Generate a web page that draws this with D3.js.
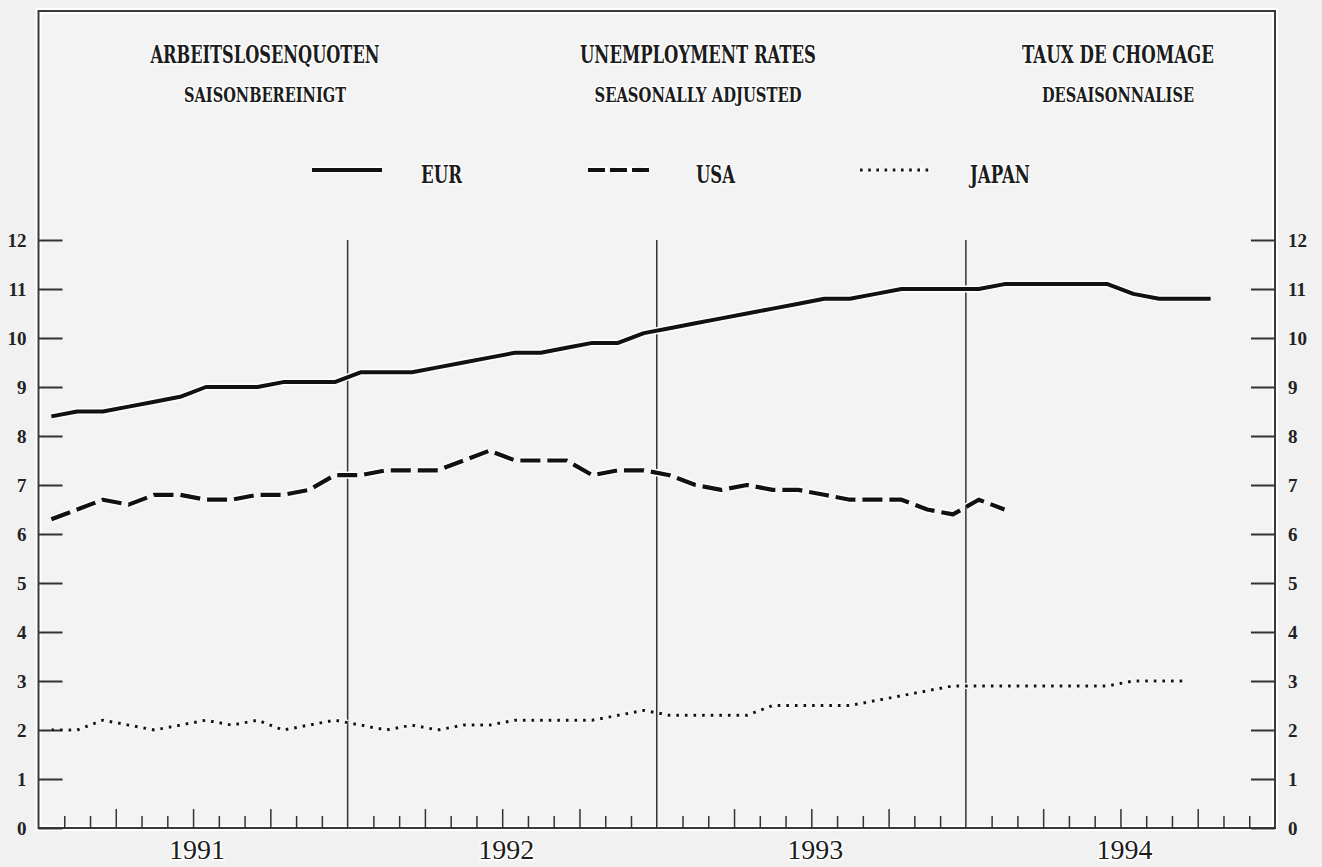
<!DOCTYPE html>
<html>
<head>
<meta charset="utf-8">
<script src="https://cdn.jsdelivr.net/npm/d3@7"></script>
<style>
  html, body { margin: 0; padding: 0; background: #f1f1f1; }
  svg { display: block; }
  .t { font-family: "DejaVu Serif", serif; font-stretch: condensed; font-weight: bold; fill: #1c1c1c;
       paint-order: stroke; stroke: #ffffff; stroke-width: 3px; stroke-linejoin: round; }
  .tick text { font-family: "Liberation Serif", serif; font-weight: bold; font-size: 19px; fill: #222; }
  .yr { font-family: "Liberation Serif", serif; font-size: 28px; fill: #1c1c1c;
        paint-order: stroke; stroke: #fff; stroke-width: 3px; }
</style>
</head>
<body>
<svg id="chart" width="1322" height="867"></svg>
<script>
// ---------------- data (monthly, starting January 1991) ----------------
const years = ["1991", "1992", "1993", "1994"];
const monthsPerYear = 12;

const eur = [
  8.4, 8.5, 8.5, 8.6, 8.7, 8.8, 9.0, 9.0, 9.0, 9.1, 9.1, 9.1,
  9.3, 9.3, 9.3, 9.4, 9.5, 9.6, 9.7, 9.7, 9.8, 9.9, 9.9, 10.1,
  10.2, 10.3, 10.4, 10.5, 10.6, 10.7, 10.8, 10.8, 10.9, 11.0, 11.0, 11.0,
  11.0, 11.1, 11.1, 11.1, 11.1, 11.1, 10.9, 10.8, 10.8, 10.8
];
const usa = [
  6.3, 6.5, 6.7, 6.6, 6.8, 6.8, 6.7, 6.7, 6.8, 6.8, 6.9, 7.2,
  7.2, 7.3, 7.3, 7.3, 7.5, 7.7, 7.5, 7.5, 7.5, 7.2, 7.3, 7.3,
  7.2, 7.0, 6.9, 7.0, 6.9, 6.9, 6.8, 6.7, 6.7, 6.7, 6.5, 6.4,
  6.7, 6.5
];
const japan = [
  2.0, 2.0, 2.2, 2.1, 2.0, 2.1, 2.2, 2.1, 2.2, 2.0, 2.1, 2.2,
  2.1, 2.0, 2.1, 2.0, 2.1, 2.1, 2.2, 2.2, 2.2, 2.2, 2.3, 2.4,
  2.3, 2.3, 2.3, 2.3, 2.5, 2.5, 2.5, 2.5, 2.6, 2.7, 2.8, 2.9,
  2.9, 2.9, 2.9, 2.9, 2.9, 2.9, 3.0, 3.0, 3.0
];
const yTicks = [0, 1, 2, 3, 4, 5, 6, 7, 8, 9, 10, 11, 12];
const titleLines = ["ARBEITSLOSENQUOTEN", "UNEMPLOYMENT RATES", "TAUX DE CHOMAGE"];
const subtitleLines = ["SAISONBEREINIGT", "SEASONALLY ADJUSTED", "DESAISONNALISE"];
const seriesNames = ["EUR", "USA", "JAPAN"];

// ---------------- layout ----------------
const W = 1322, H = 867;
const plot = { left: 38.5, right: 1275, top: 240, bottom: 828, frameTop: 11 };
const nMonths = years.length * monthsPerYear;

const svg = d3.select("#chart");
const x = d3.scaleLinear().domain([0, nMonths]).range([plot.left, plot.right]);
const y = d3.scaleLinear().domain([0, 12]).range([plot.bottom, plot.top]);

// frame
svg.append("rect")
  .attr("x", plot.left).attr("y", plot.frameTop)
  .attr("width", plot.right - plot.left).attr("height", plot.bottom - plot.frameTop)
  .attr("fill", "#f3f3f3").attr("stroke", "#ffffff").attr("stroke-width", 6);
svg.append("rect")
  .attr("x", plot.left).attr("y", plot.frameTop)
  .attr("width", plot.right - plot.left).attr("height", plot.bottom - plot.frameTop)
  .attr("fill", "none").attr("stroke", "#3a3a3a").attr("stroke-width", 2);

// year dividers
const yearBounds = d3.range(1, years.length).map(i => i * monthsPerYear);
svg.append("g").selectAll("line").data(yearBounds).join("line")
  .attr("x1", d => x(d)).attr("x2", d => x(d))
  .attr("y1", y(12)).attr("y2", y(0))
  .attr("stroke", "#333").attr("stroke-width", 1.5);

// y axes (ticks pointing inward)
const leftAxis = d3.axisLeft(y).tickValues(yTicks).tickSizeInner(-24).tickSizeOuter(0).tickPadding(12);
const gl = svg.append("g").attr("transform", `translate(${plot.left},0)`).call(leftAxis);
const rightAxis = d3.axisRight(y).tickValues(yTicks).tickSizeInner(-24).tickSizeOuter(0).tickPadding(13);
const gr = svg.append("g").attr("transform", `translate(${plot.right},0)`).call(rightAxis);
[gl, gr].forEach(g => {
  g.select(".domain").remove();
  g.selectAll(".tick line").attr("stroke", "#333").attr("stroke-width", 2);
  g.selectAll(".tick text").attr("dy", "0.36em");
});

// bottom month ticks
const monthTicks = d3.range(1, nMonths).filter(m => m % monthsPerYear !== 0);
const shortTicks = monthTicks.filter(m => m % 3 !== 0);
const longTicks = monthTicks.filter(m => m % 3 === 0);
[[shortTicks, 12], [longTicks, 19]].forEach(([vals, len]) => {
  const ax = d3.axisBottom(x).tickValues(vals).tickSizeInner(-len).tickSizeOuter(0).tickFormat("");
  const g = svg.append("g").attr("transform", `translate(0,${plot.bottom})`).call(ax);
  g.select(".domain").remove();
  g.selectAll(".tick line").attr("stroke", "#333").attr("stroke-width", 1.5);
});

// year labels
svg.append("g").selectAll("text").data(years).join("text")
  .attr("class", "yr")
  .attr("x", (d, i) => x(i * monthsPerYear + monthsPerYear / 2) + 4)
  .attr("y", 859)
  .attr("text-anchor", "middle")
  .text(d => d);

// series
const styles = {
  EUR:   { dash: null,     width: 4 },
  USA:   { dash: "20,7",   width: 4.2 },
  JAPAN: { dash: "2.6,6",  width: 3 }
};
const seriesData = { EUR: eur, USA: usa, JAPAN: japan };
const line = d3.line().x((d, i) => x(i + 0.5)).y(d => y(d));

seriesNames.forEach(name => {
  const st = styles[name];
  svg.append("path").datum(seriesData[name])
    .attr("d", line).attr("fill", "none")
    .attr("stroke", "#ffffff").attr("stroke-width", st.width + 3)
    .attr("stroke-dasharray", st.dash).attr("stroke-linejoin", "round");
  svg.append("path").datum(seriesData[name])
    .attr("d", line).attr("fill", "none")
    .attr("stroke", "#111").attr("stroke-width", st.width)
    .attr("stroke-dasharray", st.dash).attr("stroke-linejoin", "round");
});

// titles
const titleX = [265, 698, 1118];
const titleW = [229, 236, 192];
const subW = [162, 207, 152];
svg.append("g").selectAll("text").data(titleLines).join("text")
  .attr("class", "t").attr("font-size", 24)
  .attr("x", (d, i) => titleX[i]).attr("y", 63).attr("text-anchor", "middle")
  .attr("textLength", (d, i) => titleW[i]).attr("lengthAdjust", "spacingAndGlyphs")
  .text(d => d);
svg.append("g").selectAll("text").data(subtitleLines).join("text")
  .attr("class", "t").attr("font-size", 20)
  .attr("x", (d, i) => titleX[i]).attr("y", 102).attr("text-anchor", "middle")
  .attr("textLength", (d, i) => subW[i]).attr("lengthAdjust", "spacingAndGlyphs")
  .text(d => d);

// legend
const legSample = [[312, 382], [588, 649], [860, 930]];
const legTextX = [421, 696, 970];
const legTextW = [41, 39, 60];
seriesNames.forEach((name, i) => {
  const st = styles[name];
  const ly = 170;
  svg.append("line").attr("x1", legSample[i][0]).attr("x2", legSample[i][1])
    .attr("y1", ly).attr("y2", ly)
    .attr("stroke", "#fff").attr("stroke-width", st.width + 3).attr("stroke-dasharray", st.dash);
  svg.append("line").attr("x1", legSample[i][0]).attr("x2", legSample[i][1])
    .attr("y1", ly).attr("y2", ly)
    .attr("stroke", "#111").attr("stroke-width", st.width)
    .attr("stroke-dasharray", name === "USA" ? "17,5" : (name === "JAPAN" ? "2.6,5.6" : null));
  svg.append("text").attr("class", "t").attr("font-size", 24)
    .attr("x", legTextX[i]).attr("y", 183)
    .attr("textLength", legTextW[i]).attr("lengthAdjust", "spacingAndGlyphs")
    .text(name);
});
</script>
</body>
</html>
